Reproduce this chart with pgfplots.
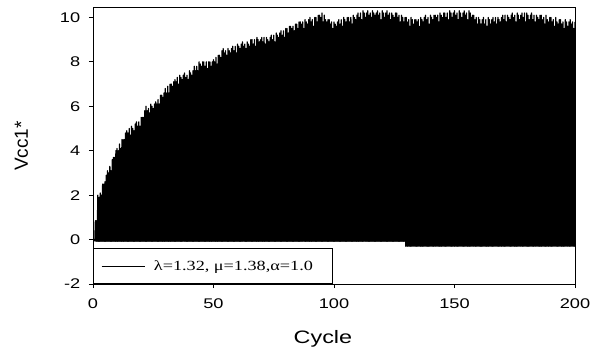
\documentclass[border=0pt]{standalone}
\usepackage{pgfplots}
\pgfplotsset{compat=1.18}
\usepackage{pgfplotstable}
\usepackage{fontspec}
\setmainfont{Liberation Sans}[FakeStretch=1.3]
\newfontfamily\legfont{Liberation Serif}[FakeStretch=1.3]
\newfontfamily\ylabfont{Liberation Sans}

\pgfplotstableread[row sep=\\]{
y\\
-0.08\\ 0.85\\ -0.08\\ 0.85\\
-0.08\\ 2.0\\ -0.08\\ 1.9\\
-0.08\\ 2.1\\ -0.08\\ 2.0\\
-0.08\\ 2.5\\ -0.08\\ 2.5\\
-0.08\\ 2.6\\ -0.08\\ 2.9\\
-0.08\\ 3.1\\ -0.08\\ 3.0\\
-0.08\\ 3.3\\ -0.08\\ 3.1\\
-0.08\\ 3.6\\ -0.08\\ 3.7\\
-0.08\\ 3.7\\ -0.08\\ 4.0\\
-0.08\\ 4.1\\ -0.08\\ 4.0\\
-0.08\\ 4.3\\ -0.08\\ 4.1\\
-0.08\\ 4.5\\ -0.08\\ 4.5\\
-0.08\\ 4.5\\ -0.08\\ 4.8\\
-0.08\\ 4.9\\ -0.08\\ 4.8\\
-0.08\\ 5.0\\ -0.08\\ 4.7\\
-0.08\\ 5.1\\ -0.08\\ 5.0\\
-0.08\\ 4.9\\ -0.08\\ 5.2\\
-0.08\\ 5.3\\ -0.08\\ 5.1\\
-0.08\\ 5.3\\ -0.08\\ 5.1\\
-0.08\\ 5.5\\ -0.08\\ 5.5\\
-0.08\\ 5.5\\ -0.08\\ 5.8\\
-0.08\\ 6.0\\ -0.08\\ 5.8\\
-0.08\\ 5.9\\ -0.08\\ 5.7\\
-0.08\\ 6.1\\ -0.08\\ 6.0\\
-0.08\\ 5.9\\ -0.08\\ 6.1\\
-0.08\\ 6.2\\ -0.08\\ 6.1\\
-0.08\\ 6.3\\ -0.08\\ 6.1\\
-0.08\\ 6.5\\ -0.08\\ 6.5\\
-0.08\\ 6.4\\ -0.08\\ 6.6\\
-0.08\\ 6.8\\ -0.08\\ 6.6\\
-0.08\\ 6.9\\ -0.08\\ 6.6\\
-0.08\\ 7.0\\ -0.08\\ 7.0\\
-0.08\\ 6.9\\ -0.08\\ 7.1\\
-0.08\\ 7.2\\ -0.08\\ 7.1\\
-0.08\\ 7.3\\ -0.08\\ 7.0\\
-0.08\\ 7.4\\ -0.08\\ 7.3\\
-0.08\\ 7.2\\ -0.08\\ 7.4\\
-0.08\\ 7.5\\ -0.08\\ 7.3\\
-0.08\\ 7.4\\ -0.08\\ 7.2\\
-0.08\\ 7.6\\ -0.08\\ 7.5\\
-0.08\\ 7.4\\ -0.08\\ 7.6\\
-0.08\\ 7.8\\ -0.08\\ 7.6\\
-0.08\\ 7.8\\ -0.08\\ 7.6\\
-0.08\\ 8.0\\ -0.08\\ 7.9\\
-0.08\\ 7.8\\ -0.08\\ 8.0\\
-0.08\\ 8.0\\ -0.08\\ 7.8\\
-0.08\\ 8.0\\ -0.08\\ 7.7\\
-0.08\\ 8.0\\ -0.08\\ 8.0\\
-0.08\\ 7.8\\ -0.08\\ 8.0\\
-0.08\\ 8.1\\ -0.08\\ 8.0\\
-0.08\\ 8.2\\ -0.08\\ 7.9\\
-0.08\\ 8.3\\ -0.08\\ 8.3\\
-0.08\\ 8.2\\ -0.08\\ 8.5\\
-0.08\\ 8.6\\ -0.08\\ 8.4\\
-0.08\\ 8.5\\ -0.08\\ 8.3\\
-0.08\\ 8.6\\ -0.08\\ 8.5\\
-0.08\\ 8.4\\ -0.08\\ 8.6\\
-0.08\\ 8.7\\ -0.08\\ 8.5\\
-0.08\\ 8.7\\ -0.08\\ 8.4\\
-0.08\\ 8.8\\ -0.08\\ 8.7\\
-0.08\\ 8.6\\ -0.08\\ 8.8\\
-0.08\\ 8.9\\ -0.08\\ 8.7\\
-0.08\\ 8.8\\ -0.08\\ 8.6\\
-0.08\\ 8.9\\ -0.08\\ 8.8\\
-0.08\\ 8.7\\ -0.08\\ 9.0\\
-0.08\\ 9.0\\ -0.08\\ 8.8\\
-0.08\\ 9.0\\ -0.08\\ 8.7\\
-0.08\\ 9.1\\ -0.08\\ 9.0\\
-0.08\\ 8.9\\ -0.08\\ 9.0\\
-0.08\\ 9.1\\ -0.08\\ 8.9\\
-0.08\\ 9.1\\ -0.08\\ 8.8\\
-0.08\\ 9.1\\ -0.08\\ 9.0\\
-0.08\\ 8.9\\ -0.08\\ 9.1\\
-0.08\\ 9.2\\ -0.08\\ 9.0\\
-0.08\\ 9.2\\ -0.08\\ 8.9\\
-0.08\\ 9.3\\ -0.08\\ 9.2\\
-0.08\\ 9.1\\ -0.08\\ 9.3\\
-0.08\\ 9.4\\ -0.08\\ 9.2\\
-0.08\\ 9.4\\ -0.08\\ 9.1\\
-0.08\\ 9.5\\ -0.08\\ 9.5\\
-0.08\\ 9.3\\ -0.08\\ 9.6\\
-0.08\\ 9.6\\ -0.08\\ 9.5\\
-0.08\\ 9.6\\ -0.08\\ 9.4\\
-0.08\\ 9.7\\ -0.08\\ 9.7\\
-0.08\\ 9.5\\ -0.08\\ 9.8\\
-0.08\\ 9.8\\ -0.08\\ 9.7\\
-0.08\\ 9.8\\ -0.08\\ 9.5\\
-0.08\\ 9.9\\ -0.08\\ 9.8\\
-0.08\\ 9.7\\ -0.08\\ 9.9\\
-0.08\\ 10.0\\ -0.08\\ 9.8\\
-0.08\\ 9.9\\ -0.08\\ 9.6\\
-0.08\\ 10.0\\ -0.08\\ 10.0\\
-0.08\\ 9.8\\ -0.08\\ 10.1\\
-0.08\\ 10.1\\ -0.08\\ 10.0\\
-0.08\\ 10.2\\ -0.08\\ 9.8\\
-0.08\\ 10.1\\ -0.08\\ 9.9\\
-0.08\\ 9.8\\ -0.08\\ 9.9\\
-0.08\\ 9.9\\ -0.08\\ 9.7\\
-0.08\\ 9.8\\ -0.08\\ 9.5\\
-0.08\\ 9.8\\ -0.08\\ 9.7\\
-0.08\\ 9.6\\ -0.08\\ 9.8\\
-0.08\\ 9.9\\ -0.08\\ 9.7\\
-0.08\\ 9.9\\ -0.08\\ 9.6\\
-0.08\\ 10.0\\ -0.08\\ 9.9\\
-0.08\\ 9.8\\ -0.08\\ 10.0\\
-0.08\\ 10.0\\ -0.08\\ 9.8\\
-0.08\\ 10.0\\ -0.08\\ 9.7\\
-0.08\\ 10.1\\ -0.08\\ 10.0\\
-0.08\\ 9.9\\ -0.08\\ 10.1\\
-0.08\\ 10.2\\ -0.08\\ 10.0\\
-0.08\\ 10.2\\ -0.08\\ 9.9\\
-0.08\\ 10.3\\ -0.08\\ 10.2\\
-0.08\\ 10.0\\ -0.08\\ 10.2\\
-0.08\\ 10.3\\ -0.08\\ 10.1\\
-0.08\\ 10.2\\ -0.08\\ 10.0\\
-0.08\\ 10.3\\ -0.08\\ 10.2\\
-0.08\\ 10.1\\ -0.08\\ 10.2\\
-0.08\\ 10.3\\ -0.08\\ 10.1\\
-0.08\\ 10.2\\ -0.08\\ 9.9\\
-0.08\\ 10.3\\ -0.08\\ 10.2\\
-0.08\\ 10.0\\ -0.08\\ 10.2\\
-0.08\\ 10.3\\ -0.08\\ 10.1\\
-0.08\\ 10.2\\ -0.08\\ 9.9\\
-0.08\\ 10.2\\ -0.08\\ 10.1\\
-0.08\\ 10.0\\ -0.08\\ 10.2\\
-0.08\\ 10.2\\ -0.08\\ 10.0\\
-0.08\\ 10.1\\ -0.08\\ 9.8\\
-0.08\\ 10.1\\ -0.08\\ 10.0\\
-0.08\\ 9.8\\ -0.08\\ 10.0\\
-0.30\\ 10.0\\ -0.30\\ 9.8\\
-0.30\\ 9.9\\ -0.30\\ 9.6\\
-0.30\\ 10.0\\ -0.30\\ 9.9\\
-0.30\\ 9.7\\ -0.30\\ 9.9\\
-0.30\\ 9.9\\ -0.30\\ 9.8\\
-0.30\\ 9.9\\ -0.30\\ 9.6\\
-0.30\\ 10.0\\ -0.30\\ 9.9\\
-0.30\\ 9.8\\ -0.30\\ 10.0\\
-0.30\\ 10.1\\ -0.30\\ 9.9\\
-0.30\\ 10.0\\ -0.30\\ 9.7\\
-0.30\\ 10.1\\ -0.30\\ 10.0\\
-0.30\\ 9.9\\ -0.30\\ 10.1\\
-0.30\\ 10.1\\ -0.30\\ 10.0\\
-0.30\\ 10.1\\ -0.30\\ 9.8\\
-0.30\\ 10.2\\ -0.30\\ 10.1\\
-0.30\\ 10.0\\ -0.30\\ 10.2\\
-0.30\\ 10.2\\ -0.30\\ 10.0\\
-0.30\\ 10.2\\ -0.30\\ 9.9\\
-0.30\\ 10.3\\ -0.30\\ 10.2\\
-0.30\\ 10.0\\ -0.30\\ 10.2\\
-0.30\\ 10.3\\ -0.30\\ 10.1\\
-0.30\\ 10.2\\ -0.30\\ 9.9\\
-0.30\\ 10.3\\ -0.30\\ 10.2\\
-0.30\\ 10.0\\ -0.30\\ 10.2\\
-0.30\\ 10.3\\ -0.30\\ 10.1\\
-0.30\\ 10.2\\ -0.30\\ 9.9\\
-0.30\\ 10.3\\ -0.30\\ 10.2\\
-0.30\\ 10.0\\ -0.30\\ 10.1\\
-0.30\\ 10.1\\ -0.30\\ 9.9\\
-0.30\\ 10.0\\ -0.30\\ 9.7\\
-0.30\\ 10.0\\ -0.30\\ 9.9\\
-0.30\\ 9.7\\ -0.30\\ 9.9\\
-0.30\\ 10.0\\ -0.30\\ 9.7\\
-0.30\\ 9.9\\ -0.30\\ 9.6\\
-0.30\\ 10.0\\ -0.30\\ 9.9\\
-0.30\\ 9.7\\ -0.30\\ 9.9\\
-0.30\\ 10.0\\ -0.30\\ 9.8\\
-0.30\\ 10.0\\ -0.30\\ 9.7\\
-0.30\\ 10.0\\ -0.30\\ 9.9\\
-0.30\\ 9.8\\ -0.30\\ 10.0\\
-0.30\\ 10.1\\ -0.30\\ 9.9\\
-0.30\\ 10.1\\ -0.30\\ 9.8\\
-0.30\\ 10.1\\ -0.30\\ 10.0\\
-0.30\\ 9.9\\ -0.30\\ 10.1\\
-0.30\\ 10.2\\ -0.30\\ 10.0\\
-0.30\\ 10.1\\ -0.30\\ 9.8\\
-0.30\\ 10.2\\ -0.30\\ 10.1\\
-0.30\\ 9.9\\ -0.30\\ 10.1\\
-0.30\\ 10.2\\ -0.30\\ 10.0\\
-0.30\\ 10.2\\ -0.30\\ 9.8\\
-0.30\\ 10.2\\ -0.30\\ 10.1\\
-0.30\\ 9.9\\ -0.30\\ 10.1\\
-0.30\\ 10.2\\ -0.30\\ 9.9\\
-0.30\\ 10.1\\ -0.30\\ 9.8\\
-0.30\\ 10.1\\ -0.30\\ 10.0\\
-0.30\\ 9.9\\ -0.30\\ 10.1\\
-0.30\\ 10.1\\ -0.30\\ 9.9\\
-0.30\\ 10.0\\ -0.30\\ 9.7\\
-0.30\\ 10.1\\ -0.30\\ 9.9\\
-0.30\\ 9.8\\ -0.30\\ 10.0\\
-0.30\\ 10.0\\ -0.30\\ 9.8\\
-0.30\\ 9.9\\ -0.30\\ 9.6\\
-0.30\\ 10.0\\ -0.30\\ 9.8\\
-0.30\\ 9.7\\ -0.30\\ 9.9\\
-0.30\\ 9.9\\ -0.30\\ 9.7\\
-0.30\\ 9.8\\ -0.30\\ 9.5\\
-0.30\\ 9.9\\ -0.30\\ 9.8\\
-0.30\\ 9.6\\ -0.30\\ 9.8\\
-0.30\\ 9.9\\ -0.30\\ 9.7\\
-0.30\\ 9.8\\ -0.30\\ 9.5\\
-0.30\\ 9.8\\
}\signal

\begin{document}
\begin{tikzpicture}
\begin{axis}[
  name=ax,
  scale only axis,
  width=482pt, height=277pt,
  xmin=0, xmax=200, ymin=-2, ymax=10.47,
  xtick={0,50,100,150,200},
  ytick={-2,0,2,4,6,8,10},
  tick pos=left,
  tick align=outside,
  major tick length=4pt,
  line width=0.9pt,
  every tick/.style={black, line width=0.8pt},
  ticklabel style={font=\fontsize{14}{16}\selectfont},
  xticklabel style={yshift=-7pt},
  yticklabel style={xshift=-5pt},
  /pgf/number format/assume math mode=true,
  xlabel={Cycle},
  xlabel style={font=\fontsize{18}{20}\selectfont, at={(axis description cs:0.477,-0.216)}, anchor=base},
  ylabel={\ylabfont Vcc1*},
  ylabel style={font=\fontsize{19}{21}\selectfont, at={(axis description cs:-0.135,0.498)}, anchor=base, rotate=0},
  legend style={at={(0,0)}, anchor=south west, draw=black, line width=0.7pt, fill=white,
    inner xsep=8pt, inner ysep=10pt, font=\legfont\fontsize{14}{16}\selectfont},
  legend image code/.code={\draw[black, line width=0.6pt] (0pt,0pt) -- (43pt,0pt);},
]
\addplot[black, mark=none, line width=1.25pt, line join=round]
  table[x expr=\coordindex*0.25+0.75, y=y] {\signal};
\addlegendentry{\hspace*{7pt}λ=1.32, μ=1.38,α=1.0\hspace*{9pt}}
\end{axis}
\pgfresetboundingbox
\path ([shift={(-93pt,-67pt)}]ax.south west) rectangle ++(603pt,351pt);
\end{tikzpicture}
\end{document}
